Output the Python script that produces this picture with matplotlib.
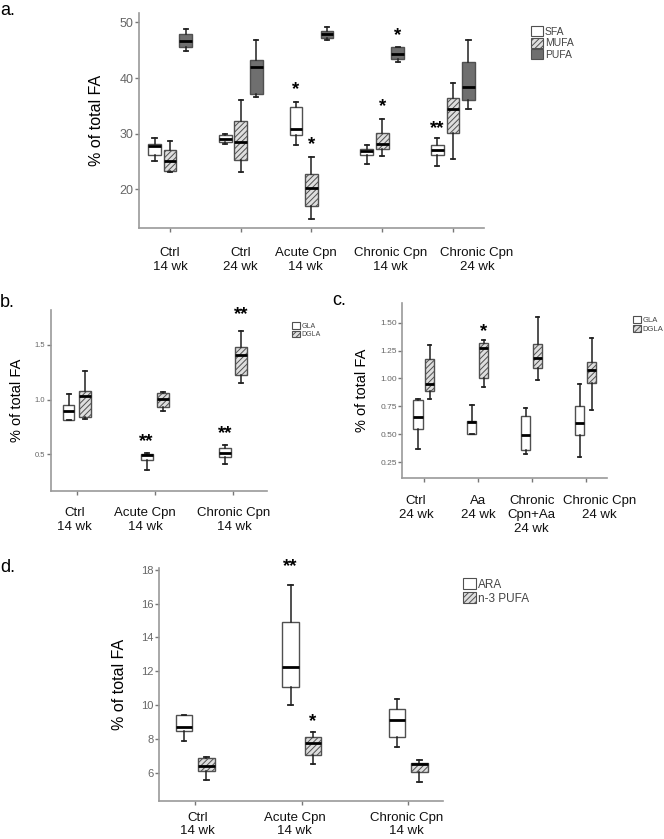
import matplotlib
matplotlib.use("Agg")
import matplotlib.pyplot as plt
from matplotlib.patches import Patch
from matplotlib.transforms import ScaledTranslation

plt.rcParams['font.family'] = ['Liberation Sans', 'DejaVu Sans']
plt.rcParams['hatch.color'] = '#5a5a5a'
plt.rcParams['hatch.linewidth'] = 0.7

# every box is [whisker low, q1, median, q3, whisker high]
a_groups = ["Ctrl\n14 wk", "Ctrl\n24 wk", "Acute Cpn\n14 wk", "Chronic Cpn\n14 wk", "Chronic Cpn\n24 wk"]
a_sfa = [[25.0, 26.1, 27.8, 28.2, 29.2], [28.2, 28.5, 29.0, 29.8, 30.0], [27.9, 29.7, 30.9, 34.7, 35.7],
         [24.6, 26.1, 26.8, 27.3, 28.0], [24.1, 26.1, 27.0, 27.9, 29.2]]
a_mufa = [[23.1, 23.2, 25.0, 27.0, 28.6], [23.0, 25.2, 28.5, 32.2, 36.0], [14.6, 16.9, 20.2, 22.7, 25.8],
          [26.0, 27.3, 28.1, 30.1, 32.7], [25.4, 30.1, 34.4, 36.4, 39.1]]
a_pufa = [[44.9, 45.6, 46.7, 48.0, 48.8], [36.6, 37.1, 41.9, 43.2, 46.8], [46.8, 47.2, 47.9, 48.4, 49.1],
          [42.8, 43.4, 44.3, 45.5, 45.5], [34.5, 36.1, 38.3, 42.9, 46.8]]
a_series = ["SFA", "MUFA", "PUFA"]
# (group, series, mark, y)
a_stars = [(3, 0, "*", 38.0), (3, 1, "*", 28.1), (4, 1, "*", 34.8), (4, 2, "*", 47.6), (5, 0, "**", 30.9)]

b_groups = ["Ctrl\n14 wk", "Acute Cpn\n14 wk", "Chronic Cpn\n14 wk"]
b_gla = [[0.81, 0.81, 0.90, 0.95, 1.05], [0.36, 0.445, 0.49, 0.50, 0.51], [0.41, 0.48, 0.51, 0.555, 0.585]]
b_dgla = [[0.82, 0.845, 1.03, 1.08, 1.265], [0.90, 0.93, 1.01, 1.065, 1.07], [1.15, 1.23, 1.41, 1.48, 1.63]]
b_stars = [(2, 0, "**", 0.618), (3, 0, "**", 0.689), (3, 1, "**", 1.778)]

c_groups = ["Ctrl\n24 wk", "Aa\n24 wk", "Chronic\nCpn+Aa\n24 wk", "Chronic Cpn\n24 wk"]
c_gla = [[0.37, 0.551, 0.653, 0.804, 0.816], [0.507, 0.507, 0.608, 0.622, 0.762],
         [0.323, 0.359, 0.492, 0.662, 0.734], [0.30, 0.492, 0.599, 0.751, 0.952]]
c_dgla = [[0.813, 0.884, 0.952, 1.172, 1.297], [0.92, 1.0, 1.272, 1.32, 1.347],
          [0.985, 1.098, 1.187, 1.305, 1.546], [0.72, 0.961, 1.08, 1.151, 1.365]]
c_stars = [(2, 1, "*", 1.424)]

d_groups = ["Ctrl\n14 wk", "Acute Cpn\n14 wk", "Chronic Cpn\n14 wk"]
d_ara = [[7.9, 8.47, 8.72, 9.41, 9.41], [10.0, 11.10, 12.24, 14.93, 17.08], [7.52, 8.13, 9.12, 9.76, 10.37]]
d_n3 = [[5.59, 6.14, 6.40, 6.89, 6.97], [6.52, 7.05, 7.79, 8.15, 8.41], [5.46, 6.05, 6.52, 6.61, 6.77]]
d_stars = [(2, 0, "**", 18.18), (2, 1, "*", 9.03)]

WHITE = dict(facecolor="white", hatch=None)
HATCH = dict(facecolor="#dedede", hatch="//////")
DARK = dict(facecolor="#6f6f6f", hatch=None)


def draw(ax, series, styles, offsets, width, capw):
    for vals, st, off in zip(series, styles, offsets):
        stats = [dict(whislo=v[0], q1=v[1], med=v[2], q3=v[3], whishi=v[4], fliers=[]) for v in vals]
        pos = [i + 1 + off for i in range(len(vals))]
        ax.bxp(stats, positions=pos, widths=width, patch_artist=True, showfliers=False,
               manage_ticks=False, capwidths=capw,
               boxprops=dict(facecolor=st["facecolor"], hatch=st["hatch"], edgecolor="#505050", linewidth=1.0),
               medianprops=dict(color="black", linewidth=2.0),
               whiskerprops=dict(color="#202020", linewidth=1.1),
               capprops=dict(color="#202020", linewidth=1.3))


def style(ax, groups, xlim, ylim, yticks, yfmt, tsize, ylab_size, ylab_x, catpad, shifts, lsp=1.2):
    for s in ["top", "right"]:
        ax.spines[s].set_visible(False)
    for s in ["left", "bottom"]:
        ax.spines[s].set_color("#9a9a9a")
        ax.spines[s].set_linewidth(1.2)
    ax.set_xlim(*xlim)
    ax.set_ylim(*ylim)
    ax.set_xticks(range(1, len(groups) + 1))
    ax.set_xticklabels(groups, fontsize=9.5, color="#111111", linespacing=lsp)
    ax.set_yticks(yticks)
    ax.set_yticklabels([yfmt % t for t in yticks], fontsize=tsize, color="#666666")
    ax.tick_params(axis="both", colors="#777777", length=3, width=1)
    ax.tick_params(axis="x", pad=catpad, labelcolor="#111111")
    ax.tick_params(axis="y", pad=1, labelcolor="#666666")
    ax.set_ylabel("% of total FA", fontsize=ylab_size)
    ax.yaxis.set_label_coords(ylab_x, 0.5)
    # nudge category labels sideways (in pixels) as in the original layout
    for lab, px in zip(ax.get_xticklabels(), shifts):
        if px:
            lab.set_transform(lab.get_transform() + ScaledTranslation(px / 100, 0, ax.figure.dpi_scale_trans))


def stars(ax, items, offsets, size=13.5):
    for g, s, mark, y in items:
        ax.text(g + offsets[s], y, mark, ha="center", va="center", fontsize=size,
                fontweight="bold", clip_on=False)


def legend(fig, labels, styles, x, y, size):
    handles = [Patch(facecolor=st["facecolor"], hatch=st["hatch"], edgecolor="#505050", linewidth=0.8)
               for st in styles]
    fig.legend(handles, labels, loc="upper left", bbox_to_anchor=(x, y), frameon=False, fontsize=size,
               handlelength=1.1, handleheight=1.1, handletextpad=0.2, labelspacing=0.1, borderpad=0,
               labelcolor="#444444")


fig = plt.figure(figsize=(6.64, 8.39), dpi=100)

# panel a
axa = fig.add_axes([0.2093, 0.7282, 0.5196, 0.2563])
offa = [-0.22, 0.0, 0.22]
draw(axa, [a_sfa, a_mufa, a_pufa], [WHITE, HATCH, DARK], offa, 0.18, 0.06)
style(axa, a_groups, (0.56, 5.44), (13.0, 51.7), [20, 30, 40, 50], "%d", 9, 11.5, -0.100, 11,
      [0, 0, -6, 8, 24])
stars(axa, a_stars, offa)
legend(fig, a_series, [WHITE, HATCH, DARK], 0.792, 0.975, 7.5)

# panel b
axb = fig.add_axes([0.0764, 0.4151, 0.3253, 0.2154])
offb = [-0.105, 0.105]
draw(axb, [b_gla, b_dgla], [WHITE, HATCH], offb, 0.15, 0.05)
style(axb, b_groups, (0.667, 3.43), (0.167, 1.82), [0.5, 1.0, 1.5], "%.1f", 5.5, 10.5, -0.124, 9,
      [-2, -10, 1])
stars(axb, b_stars, offb)
legend(fig, ["GLA", "DGLA"], [WHITE, HATCH], 0.435, 0.620, 5)

# panel c
axc = fig.add_axes([0.6059, 0.4299, 0.3087, 0.2089])
offc = [-0.11, 0.11]
draw(axc, [c_gla, c_dgla], [WHITE, HATCH], offc, 0.17, 0.06)
style(axc, c_groups, (0.6, 4.4), (0.107, 1.675), [0.25, 0.5, 0.75, 1.0, 1.25, 1.5], "%.2f", 6, 10.5,
      -0.164, 9, [-8, 0, 0, 14])
stars(axc, c_stars, offc)
legend(fig, ["GLA", "DGLA"], [WHITE, HATCH], 0.947, 0.628, 5.5)

# panel d
axd = fig.add_axes([0.2395, 0.0453, 0.4282, 0.2777])
offd = [-0.105, 0.105]
draw(axd, [d_ara, d_n3], [WHITE, HATCH], offd, 0.155, 0.04)
style(axd, d_groups, (0.66, 3.33), (4.35, 18.1), [6, 8, 10, 12, 14, 16, 18], "%d", 8, 11.5, -0.111, 5,
      [2, -7, -2], lsp=1.05)
stars(axd, d_stars, offd)
legend(fig, ["ARA", "n-3 PUFA"], [WHITE, HATCH], 0.688, 0.318, 8.5)

fig.text(0.0, 0.988, "a.", fontsize=13, va="center", ha="left")
fig.text(0.0, 0.640, "b.", fontsize=13, va="center", ha="left")
fig.text(0.5, 0.642, "c.", fontsize=13, va="center", ha="left")
fig.text(0.0, 0.324, "d.", fontsize=13, va="center", ha="left")

fig.savefig("out.png", dpi=100)
